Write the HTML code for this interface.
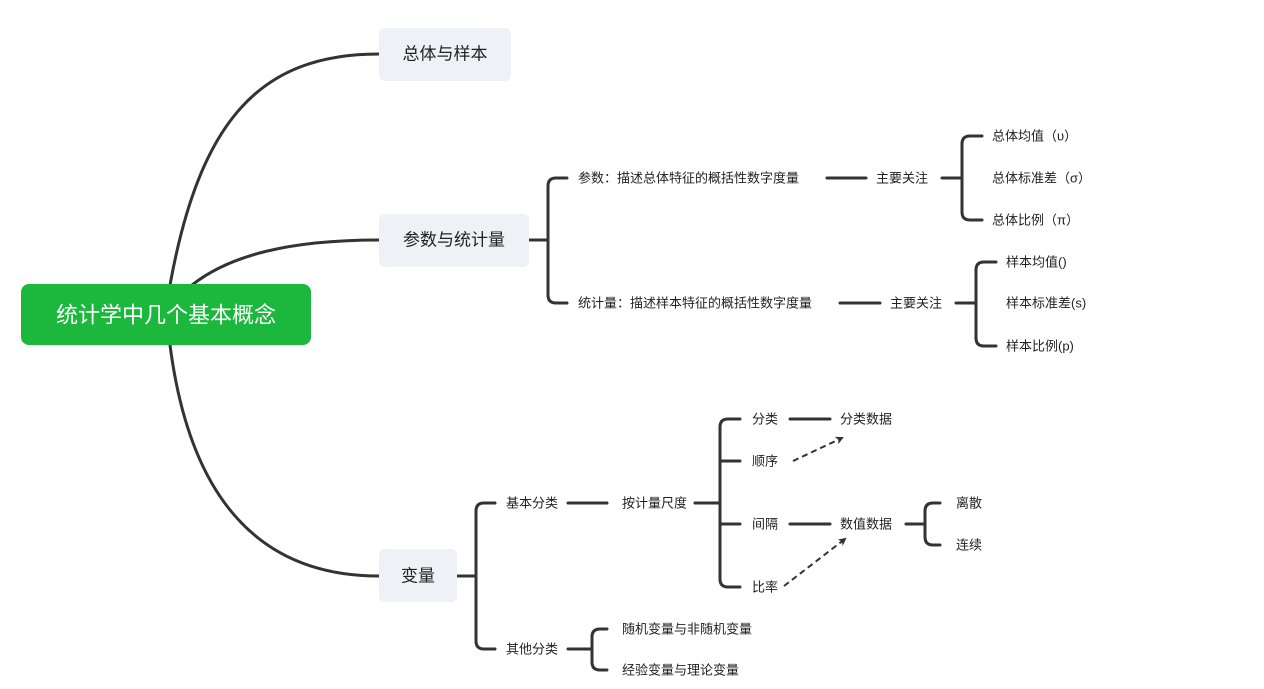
<!DOCTYPE html>
<html><head><meta charset="utf-8"><style>
html,body{margin:0;padding:0;background:#fff;}
svg{display:block;}
text{font-family:"Liberation Sans","Noto Sans CJK SC",sans-serif;fill:#222;dominant-baseline:central;}
.s{font-size:13px;}
</style></head><body>
<svg width="1264" height="689" viewBox="0 0 1264 689" xmlns="http://www.w3.org/2000/svg">
<defs><marker id="a" markerWidth="8" markerHeight="8" refX="6" refY="4" orient="auto" markerUnits="userSpaceOnUse"><path d="M0,0 L8,4 L0,8 L2,4 Z" fill="#333"/></marker></defs>
<g fill="none" stroke="#333" stroke-width="3" stroke-linecap="round">
<path d="M170,285 C200,120 260,54 379,54"/>
<path d="M192,285 C230,255 290,240 379,240"/>
<path d="M170,345 C190,500 260,576 379,576"/>
<!-- 参数与统计量 -->
<path d="M529,240 H548"/>
<path d="M567,178 H556 Q548,178 548,186 V295 Q548,303 556,303 H567"/>
<path d="M827,178 H866"/>
<path d="M942,178 H962"/>
<path d="M982,136 H970 Q962,136 962,144 V212 Q962,220 970,220 H982"/>
<path d="M840,303 H880"/>
<path d="M956,303 H976"/>
<path d="M996,262 H984 Q976,262 976,270 V338 Q976,346 984,346 H996"/>
<!-- 变量 -->
<path d="M457,576 H476"/>
<path d="M495,503 H484 Q476,503 476,511 V641 Q476,649 484,649 H495"/>
<path d="M568,503 H607"/>
<path d="M695,503 H720"/>
<path d="M740,419 H728 Q720,419 720,427 V579 Q720,587 728,587 H740"/>
<path d="M720,461 H740"/><path d="M720,524 H740"/>
<path d="M790,419 H830"/>
<path d="M790,524 H830"/>
<path d="M906,524 H925"/>
<path d="M940,503 H933 Q925,503 925,511 V537 Q925,545 933,545 H940"/>
<path d="M568,649 H592"/>
<path d="M607,629 H600 Q592,629 592,637 V662 Q592,670 600,670 H607"/>
</g>
<g stroke="#333" stroke-width="2" stroke-dasharray="6,4" fill="none">
<path d="M793,461 L842,438" marker-end="url(#a)"/>
<path d="M784,586 L845,539" marker-end="url(#a)"/>
</g>
<rect x="21" y="284" width="290" height="61" rx="8" fill="#1BB83D"/>
<text x="166" y="315" text-anchor="middle" style="font-size:22px;fill:#fff">统计学中几个基本概念</text>
<rect x="379" y="28" width="132" height="53" rx="6" fill="#EEF1F5"/>
<text x="445" y="54" text-anchor="middle" style="font-size:17px">总体与样本</text>
<rect x="379" y="214" width="150" height="53" rx="6" fill="#EEF1F5"/>
<text x="454" y="240" text-anchor="middle" style="font-size:17px">参数与统计量</text>
<rect x="379" y="549" width="78" height="53" rx="6" fill="#EEF1F5"/>
<text x="418" y="576" text-anchor="middle" style="font-size:17px">变量</text>
<g class="s">
<text class="s" x="578" y="178">参数：描述总体特征的概括性数字度量</text>
<text class="s" x="876" y="178">主要关注</text>
<text class="s" x="992" y="136">总体均值（υ）</text>
<text class="s" x="992" y="178">总体标准差（σ）</text>
<text class="s" x="992" y="220">总体比例（π）</text>
<text class="s" x="578" y="303">统计量：描述样本特征的概括性数字度量</text>
<text class="s" x="890" y="303">主要关注</text>
<text class="s" x="1006" y="262">样本均值()</text>
<text class="s" x="1006" y="303">样本标准差(s)</text>
<text class="s" x="1006" y="346">样本比例(p)</text>
<text class="s" x="506" y="503">基本分类</text>
<text class="s" x="622" y="503">按计量尺度</text>
<text class="s" x="752" y="419">分类</text>
<text class="s" x="752" y="461">顺序</text>
<text class="s" x="752" y="524">间隔</text>
<text class="s" x="752" y="587">比率</text>
<text class="s" x="840" y="419">分类数据</text>
<text class="s" x="840" y="524">数值数据</text>
<text class="s" x="956" y="503">离散</text>
<text class="s" x="956" y="545">连续</text>
<text class="s" x="506" y="649">其他分类</text>
<text class="s" x="622" y="629">随机变量与非随机变量</text>
<text class="s" x="622" y="670">经验变量与理论变量</text>
</g>
</svg>
</body></html>
